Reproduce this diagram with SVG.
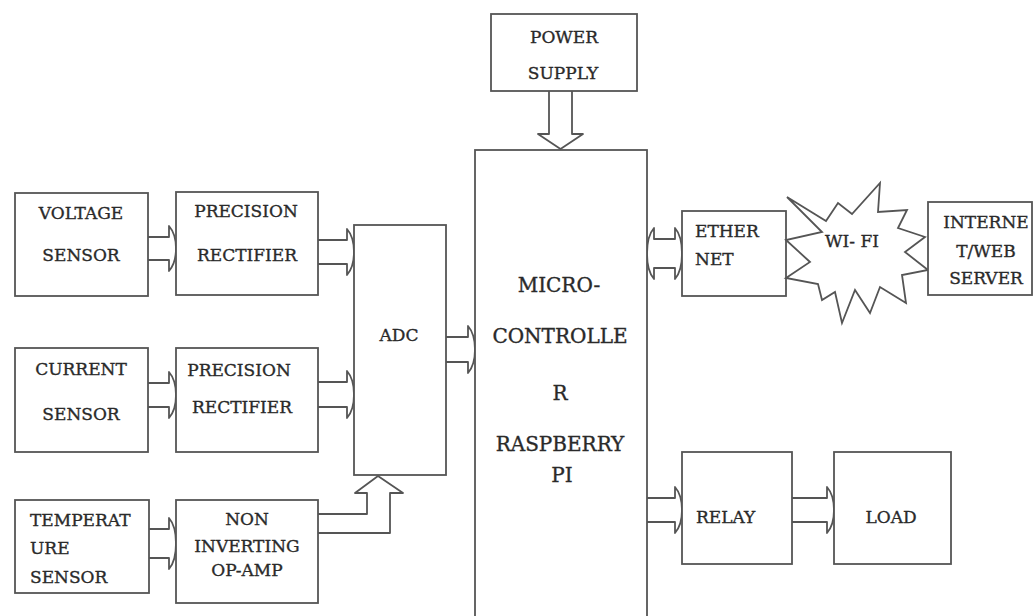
<svg xmlns="http://www.w3.org/2000/svg" width="1035" height="616" viewBox="0 0 1035 616">
<style>
.box{fill:#fff;stroke:#555;stroke-width:1.8}
.arr{fill:#fff;stroke:#555;stroke-width:1.8;stroke-linejoin:round}
.t{font-family:"DejaVu Serif","Liberation Serif",serif;font-size:17px;fill:#2a2a2a;stroke:#2a2a2a;stroke-width:0.35}
.m{text-anchor:middle}
.big{font-size:20px}
</style>
<rect width="1035" height="616" fill="#fff"/>
<g id="connectors">
<path class="arr" d="M148,237 H169 V226 Q176,234 176,248.5 Q176,263 169,271 V260 H148"/>
<path class="arr" d="M318,240 H347 V229 Q354,237 354,252 Q354,267 347,275 V264 H318"/>
<path class="arr" d="M148,383 H169 V372 Q176,380 176,395 Q176,410 169,418 V407 H148"/>
<path class="arr" d="M318,382 H347 V371 Q354,379 354,394.5 Q354,410 347,418 V407 H318"/>
<path class="arr" d="M149,529 H169 V518 Q176,526 176,543.5 Q176,561 169,569 V558 H149"/>
<path class="arr" d="M318,514 H367 V493 H355 L378,476 L403,493 H390 V533 H318"/>
<path class="arr" d="M446,337 H468 V326 Q475,334 475,349.5 Q475,365 468,373 V362 H446"/>
<path class="arr" d="M549,91 V134 H538 L560.5,149 L583,134 H572 V91"/>
<path class="arr" d="M654,239 H675 V228 Q682,236 682,253.5 Q682,271 675,279 V268 H654 V279 Q647,271 647,253.5 Q647,236 654,228 Z"/>
<path class="arr" d="M647,498 H675 V487 Q682,495 682,510 Q682,525 675,533 V522 H647"/>
<path class="arr" d="M792,498 H827 V487 Q834,495 834,510 Q834,525 827,533 V522 H792"/>
</g>
<g id="voltage-sensor"><rect class="box" x="15" y="193" width="133" height="103"/><text class="t m" x="81" y="219">VOLTAGE</text><text class="t m" x="81" y="261">SENSOR</text></g>
<g id="precision-rectifier-1"><rect class="box" x="176" y="192" width="142" height="103"/><text class="t m" x="246" y="217">PRECISION</text><text class="t m" x="247" y="261">RECTIFIER</text></g>
<g id="current-sensor"><rect class="box" x="15" y="348" width="133" height="104"/><text class="t m" x="81" y="375">CURRENT</text><text class="t m" x="81" y="420">SENSOR</text></g>
<g id="precision-rectifier-2"><rect class="box" x="176" y="348" width="142" height="104"/><text class="t m" x="239" y="376">PRECISION</text><text class="t m" x="242" y="413">RECTIFIER</text></g>
<g id="temperature-sensor"><rect class="box" x="15" y="500" width="134" height="93"/><text class="t" x="30" y="526">TEMPERAT</text><text class="t" x="30" y="554">URE</text><text class="t" x="30" y="583">SENSOR</text></g>
<g id="non-inverting"><rect class="box" x="176" y="500" width="142" height="103"/><text class="t m" x="247" y="525">NON</text><text class="t m" x="247" y="552">INVERTING</text><text class="t m" x="247" y="576">OP-AMP</text></g>
<g id="adc"><rect class="box" x="354" y="225" width="92" height="250"/><text class="t m" x="399" y="341">ADC</text></g>
<g id="power-supply"><rect class="box" x="491" y="14" width="146" height="77"/><text class="t m" x="564" y="43">POWER</text><text class="t m" x="563" y="79">SUPPLY</text></g>
<g id="microcontroller"><rect class="box" x="475" y="150" width="172" height="480"/><text class="t m big" x="559" y="292">MICRO-</text><text class="t m big" x="560" y="343">CONTROLLE</text><text class="t m big" x="560" y="400">R</text><text class="t m big" x="560" y="451">RASPBERRY</text><text class="t m big" x="562" y="482">PI</text></g>
<g id="ethernet"><rect class="box" x="682" y="211" width="104" height="85"/><text class="t" x="695" y="237">ETHER</text><text class="t" x="695" y="265">NET</text></g>
<g id="wifi"><polygon class="box" points="787,197 826,221 838,203 852,214 880,183 878,212 907,210 898,228 925,237 905,252 928,270 902,275 906,303 880,287 870,313 855,290 842,323 835,292 822,300 818,284 786,278 810,262 786,240 822,232"/><text class="t m" x="852" y="247">WI- FI</text></g>
<g id="internet"><rect class="box" x="928" y="202" width="104" height="93"/><text class="t m" x="986" y="228">INTERNE</text><text class="t m" x="986" y="257">T/WEB</text><text class="t m" x="986" y="284">SERVER</text></g>
<g id="relay"><rect class="box" x="682" y="452" width="110" height="112"/><text class="t" x="696" y="523">RELAY</text></g>
<g id="load"><rect class="box" x="834" y="452" width="117" height="112"/><text class="t m" x="891" y="523">LOAD</text></g>
</svg>
